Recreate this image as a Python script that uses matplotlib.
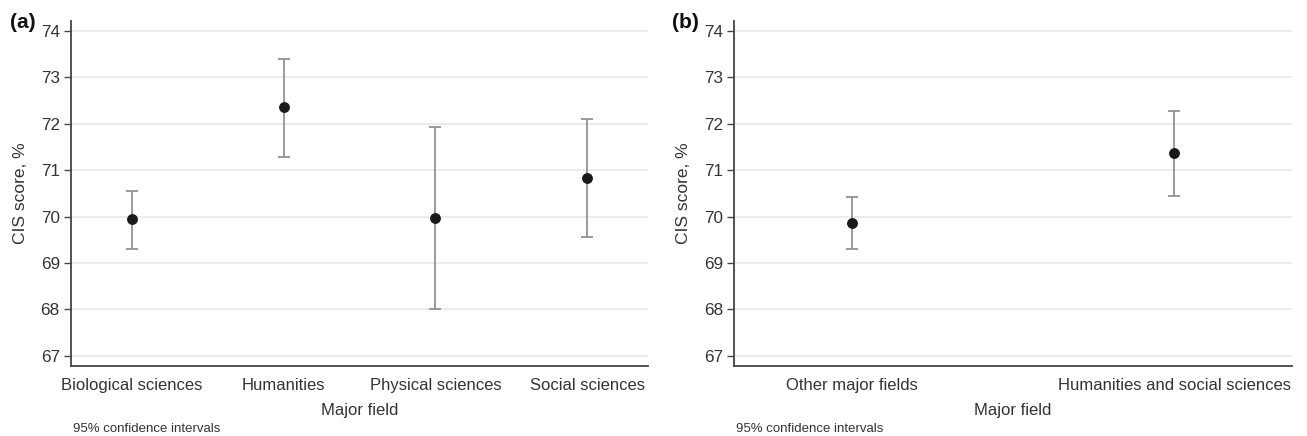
import matplotlib.pyplot as plt

plt.rcParams['font.family'] = ['Liberation Sans', 'DejaVu Sans']

# panel (a)
fields_a = ['Biological sciences', 'Humanities', 'Physical sciences', 'Social sciences']
mean_a = [69.95, 72.36, 69.97, 70.83]
low_a = [69.31, 71.28, 68.00, 69.55]
high_a = [70.56, 73.40, 71.92, 72.10]

# panel (b)
fields_b = ['Other major fields', 'Humanities and social sciences']
mean_b = [69.87, 71.37]
low_b = [69.31, 70.45]
high_b = [70.43, 72.28]

TEXT = '#333333'
GRID = '#e8e8e8'
ERR = '#8a8a8a'


def draw_panel(ax, fields, means, lows, highs, xpad):
    xs = list(range(1, len(fields) + 1))
    yerr = [[m - l for m, l in zip(means, lows)],
            [h - m for m, h in zip(means, highs)]]
    ax.errorbar(xs, means, yerr=yerr, fmt='o', color='#1a1a1a', ms=6.8,
                ecolor=ERR, elinewidth=1.2, capsize=4, capthick=1.2, zorder=3)
    ax.set_xlim(1 - xpad, len(fields) + xpad)
    ax.set_ylim(66.78, 74.22)
    ax.set_yticks(range(67, 75))
    ax.set_xticks(xs)
    ax.set_xticklabels(fields)
    ax.grid(axis='y', color=GRID, lw=1.2)
    ax.set_axisbelow(True)
    for s in ['top', 'right']:
        ax.spines[s].set_visible(False)
    for s in ['left', 'bottom']:
        ax.spines[s].set_color('#444444')
        ax.spines[s].set_linewidth(1.3)
    ax.tick_params(axis='y', length=5, width=1, color='#444444', labelsize=12.3, labelcolor=TEXT, pad=3)
    ax.tick_params(axis='x', length=0, labelsize=12, labelcolor=TEXT, pad=9)
    ax.set_xlabel('Major field', fontsize=12, color=TEXT, labelpad=7)
    ax.set_ylabel('CIS score, %', fontsize=12.5, color=TEXT, labelpad=9)
    ax.text(0.004, -0.183, '95% confidence intervals', transform=ax.transAxes,
            fontsize=9.5, color=TEXT, ha='left', va='center')


fig = plt.figure(figsize=(13.07, 4.36), dpi=100)
ax1 = fig.add_axes([0.0543, 0.1606, 0.4415, 0.792])
ax2 = fig.add_axes([0.5616, 0.1606, 0.4269, 0.792])

draw_panel(ax1, fields_a, mean_a, low_a, high_a, 0.4)
draw_panel(ax2, fields_b, mean_b, low_b, high_b, 0.365)

fig.text(10 / 1307, 1 - 22 / 436, '(a)', fontsize=15, fontweight='bold',
         color='#111111', ha='left', va='center')
fig.text(672 / 1307, 1 - 22 / 436, '(b)', fontsize=15, fontweight='bold',
         color='#111111', ha='left', va='center')

fig.savefig('out.png', dpi=100)
